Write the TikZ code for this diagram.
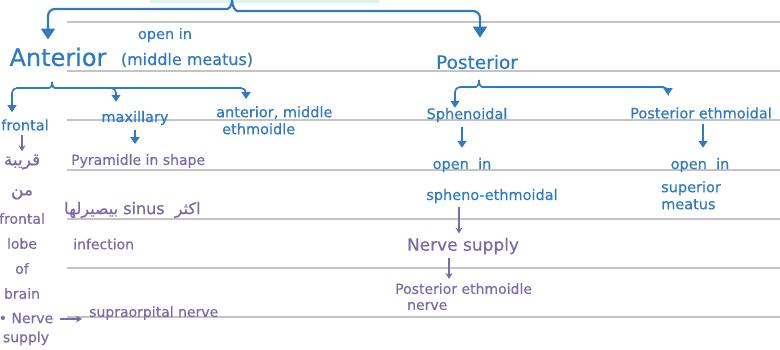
\documentclass[tikz,border=0pt]{standalone}
\usepackage{fontspec}
\setmainfont[FakeBold=0.5]{DejaVu Sans}
\newfontfamily\arabicfont[Script=Arabic, FakeBold=0.5]{DejaVu Sans}
\TeXXeTstate=1
\usetikzlibrary{arrows.meta, positioning, calc}
\definecolor{noteblue}{HTML}{2E7BC5}
\definecolor{notepurple}{HTML}{7B6AAA}
\definecolor{rulegray}{HTML}{C4C4C4}
\definecolor{markmint}{HTML}{DDF3EE}

\begin{document}
\begin{tikzpicture}[x=1pt, y=1pt,
  bluenote/.style={text=noteblue, inner sep=1pt, font=\fontsize{14.5}{17}\selectfont},
  purplenote/.style={text=notepurple, inner sep=1pt, font=\fontsize{14}{16}\selectfont},
  bigbrace/.style={draw=noteblue, line width=2.2pt, rounded corners=7pt, -{Triangle[width=14pt,length=11pt]}},
  subbrace/.style={draw=noteblue, line width=1.6pt, rounded corners=5pt, -{Triangle[width=9pt,length=7pt]}},
  bluearrow/.style={draw=noteblue, line width=1.8pt, -{Triangle[width=9pt,length=7pt]}},
  purplearrow/.style={draw=notepurple, line width=1.3pt, -{Stealth[width=7pt,length=6pt]}}]
  \useasboundingbox (0,0) rectangle (780,-350);

  % Ruled page
  \fill[markmint, rounded corners=2pt] (150,0) rectangle (380,-3);
  \foreach \y in {22,71,120,170,219,268,317}
    \draw[rulegray, line width=1.2pt] (67,-\y) -- (780,-\y);

  % Main headings
  \coordinate (topcusp) at (232,0);
  \node[text=noteblue, inner sep=1pt, font=\fontsize{24}{28}\selectfont] (ant) at (58,-57) {Anterior};
  \node[text=noteblue, inner sep=1pt, font=\fontsize{16}{18}\selectfont] (meatus) at (187,-60) {(middle meatus)};
  \node[bluenote] (openant) at (165,-35) {open in};
  \node[text=noteblue, inner sep=1pt, font=\fontsize{18.5}{22}\selectfont] (post) at (477,-62) {Posterior};

  \draw[bigbrace] (topcusp) .. controls +(0,-7) and +(8,0) .. ++(-12,-9) -| ([xshift=-10pt, yshift=7pt]ant.north);
  \draw[bigbrace] (topcusp) .. controls +(0,-7) and +(-8,0) .. ++(12,-11) -| ([xshift=3pt, yshift=16pt]post.north);

  % Anterior group
  \coordinate (antcusp) at (52,-82);
  \node[bluenote] (front) at (25,-125) {frontal};
  \node[bluenote] (maxil) at (135,-118) {maxillary};
  \node[bluenote, align=left, anchor=north west] (antmid) at (215,-105) {anterior, middle\\\hspace*{6pt}ethmoidle};

  \draw[subbrace] (antcusp) .. controls +(0,-5) and +(6,0) .. ++(-8,-6) -| ([xshift=-13pt, yshift=6pt]front.north);
  \draw[subbrace] (antcusp) .. controls +(0,-5) and +(-6,0) .. ++(8,-6) -| ([xshift=-19pt, yshift=8pt]maxil.north);
  \draw[subbrace] (antcusp) .. controls +(0,-5) and +(-6,0) .. ++(8,-6) -| ([xshift=31pt, yshift=6pt]antmid.north west);

  % Frontal sinus notes
  \node[purplenote, font=\arabicfont\fontsize{17}{30}\selectfont, align=center] (near) at (22,-177) {\beginR قريبة\endR\\\beginR من\endR};
  \node[purplenote, font=\fontsize{14}{25}\selectfont, align=center] (lobe) at (22,-256) {frontal\\lobe\\of\\brain};
  \node[purplenote, font=\fontsize{14}{19}\selectfont, align=center] (nerveleft) at (26,-329) {\textbullet\ Nerve\\supply};
  \node[purplenote, anchor=west] (supraorb) at (88,-313) {supraorpital nerve};
  \draw[purplearrow, shorten <=3pt, shorten >=2pt] (front.south -| 22,0) -- (near.north -| 22,0);
  \draw[purplearrow, shorten <=6pt, shorten >=6pt] ([yshift=-6pt]supraorb.west -| nerveleft.east) -- ([yshift=-6pt]supraorb.west);

  % Maxillary sinus notes
  \node[purplenote, anchor=west] (pyramid) at (70,-161) {Pyramidle in shape};
  \node[purplenote, anchor=west, font=\arabicfont\fontsize{16}{18}\selectfont] (mostinf) at (63,-210) {\beginR اكثر\ \ \beginL sinus\endL{} بيصيرلها\endR};
  \node[purplenote, anchor=west] (infect) at (72,-244) {infection};
  \draw[bluearrow, shorten <=4pt, shorten >=9pt] (maxil.south) -- (maxil.south |- pyramid.north);

  % Posterior group
  \coordinate (postcusp) at (479,-80);
  \node[bluenote] (spheno) at (467,-115) {Sphenoidal};
  \node[bluenote] (postethm) at (701,-113) {Posterior ethmoidal};
  \draw[subbrace] (postcusp) .. controls +(0,-5) and +(6,0) .. ++(-8,-7) -| ([xshift=-12pt, yshift=-1pt]spheno.north);
  \draw[subbrace] (postcusp) .. controls +(0,-5) and +(-6,0) .. ++(8,-7) -| ([xshift=-33pt, yshift=11pt]postethm.north);

  % Sphenoidal sinus notes
  \node[bluenote] (openspheno) at (462,-165) {open\ \ in};
  \node[bluenote] (sphenoeth) at (492,-196) {spheno-ethmoidal};
  \node[text=notepurple, inner sep=1pt, font=\fontsize{17}{20}\selectfont] (nervesup) at (463,-246) {Nerve supply};
  \node[purplenote, align=left, anchor=north west] (postnerve) at (394,-282) {Posterior ethmoidle\\\hspace*{12pt}nerve};
  \draw[bluearrow, shorten <=4pt, shorten >=9pt] (spheno.south -| 462,0) -- (openspheno.north -| 462,0);
  \draw[purplearrow, shorten <=3pt, shorten >=3pt] (sphenoeth.south -| 459,0) -- (nervesup.north -| 459,0);
  \draw[purplearrow, shorten <=3pt, shorten >=3pt] (nervesup.south -| 449,0) -- (postnerve.north -| 449,0);

  % Posterior ethmoidal notes
  \node[bluenote] (openpost) at (700,-165) {open\ \ in};
  \node[bluenote, align=left, anchor=north west] (supmeat) at (660,-180) {superior\\meatus};
  \draw[bluearrow, shorten <=4pt, shorten >=9pt] (postethm.south -| 703,0) -- (openpost.north -| 703,0);
\end{tikzpicture}
\end{document}
